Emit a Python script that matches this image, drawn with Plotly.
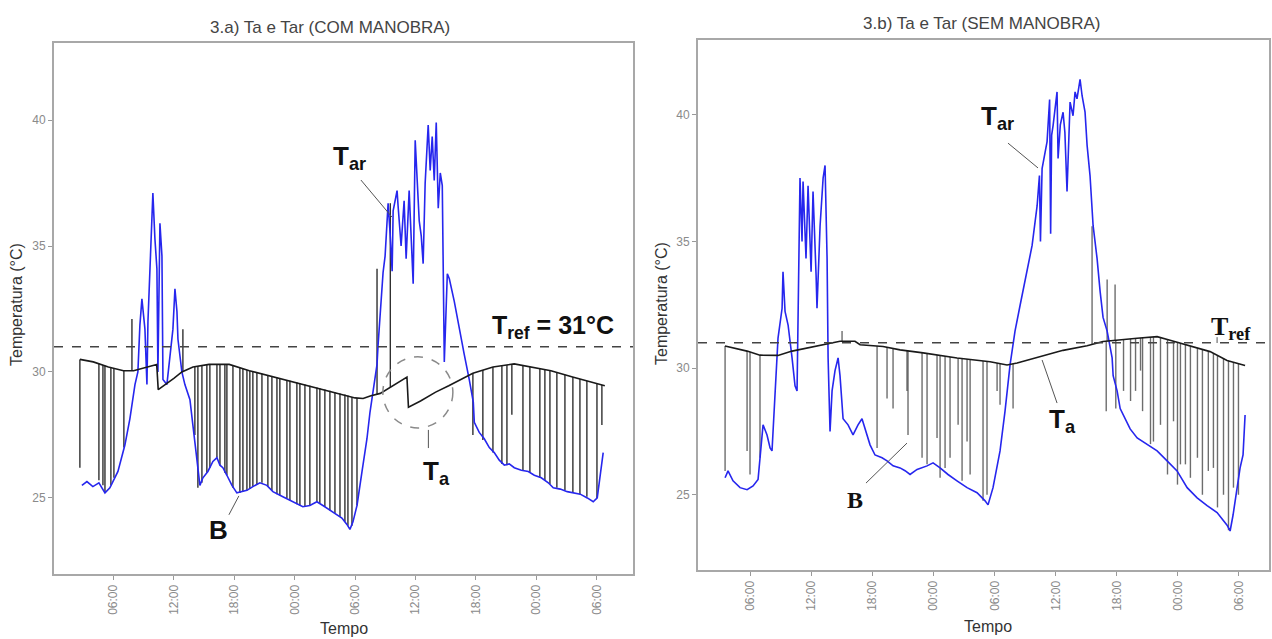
import numpy as np
import plotly.graph_objects as go

# ---------------- data ----------------
tick_hours = [6, 12, 18, 24, 30, 36, 42, 48, 54]
tick_labels = ["06:00", "12:00", "18:00", "00:00", "06:00", "12:00", "18:00", "00:00", "06:00"]
T_REF = 31

# Panel 3.a (COM MANOBRA)
ta_a_h = [2.67, 4.0, 5.5, 7.0, 8.0, 9.0, 10.3, 10.45, 11.0, 12.0, 12.8, 13.9, 15.5, 17.5, 19.5, 21.0, 23.0,
          25.0, 27.0, 29.0, 30.0, 30.8, 31.5, 32.5, 33.5, 34.7, 35.15, 35.3, 36.5, 38.0, 39.3, 41.7, 43.7,
          45.8, 47.5, 49.45, 51.6, 54.8]
ta_a_v = [30.5, 30.4, 30.2, 30.05, 30.05, 30.15, 30.3, 29.3, 29.45, 29.75, 30.0, 30.2, 30.3, 30.3, 30.05, 29.9, 29.7,
          29.5, 29.3, 29.1, 28.97, 28.95, 29.05, 29.15, 29.4, 29.7, 29.8, 28.6, 28.85, 29.2, 29.45, 29.95, 30.2,
          30.32, 30.2, 30.05, 29.8, 29.45]

tar_a_h = [2.87, 3.37, 3.96, 4.56, 5.16, 5.65, 5.95, 6.45, 7.14, 7.64,
           8.14, 8.43, 8.63, 8.83, 9.13, 9.33, 9.43, 9.62, 9.82, 9.92,
           10.12, 10.32, 10.42, 10.62, 10.82, 10.92, 11.31, 11.61, 11.91, 12.11,
           12.31, 12.41, 12.80, 13.10, 13.60, 13.89, 14.29, 14.59, 14.89, 15.38,
           15.88, 16.28, 16.58, 16.87, 17.27, 17.77, 18.26, 18.76, 19.26, 19.85,
           20.55, 21.24, 21.84, 22.83, 23.82, 24.81, 25.51, 26.21, 26.80, 27.80,
           28.69, 29.19, 29.49, 29.79, 30.19, 30.69, 31.18, 31.48, 31.78, 32.18,
           32.28, 32.48, 32.78, 32.98, 33.18, 33.28, 33.48, 33.68, 33.78, 34.17,
           34.27, 34.57, 34.87, 35.07, 35.37, 35.57, 35.77, 35.97, 36.17, 36.37,
           36.57, 36.76, 36.96, 37.26, 37.46, 37.66, 37.86, 38.06, 38.26, 38.46,
           38.66, 38.86, 39.16, 39.36, 39.85, 40.35, 40.84, 41.34, 41.74, 41.84,
           42.33, 42.83, 43.33, 43.82, 44.32, 44.82, 45.31, 45.81, 46.51, 47.20,
           47.80, 48.49, 49.19, 49.68, 50.38, 51.07, 51.67, 52.36, 53.06, 53.65,
           54.05, 54.35, 54.64]
tar_a_v = [25.5, 25.65, 25.45, 25.6, 25.2, 25.4, 25.65, 26.05, 27.1, 28.15,
           29.5, 30.0, 31.85, 32.9, 31.7, 29.5, 32.0, 34.0, 35.6, 37.1,
           35.3, 34.1, 30.0, 35.9, 34.6, 29.7, 29.5, 30.5, 31.7, 33.3,
           32.4, 31.3, 30.0, 29.5, 28.9, 27.9, 26.6, 25.5, 25.8, 26.05,
           26.45, 26.6, 26.3, 26.2, 25.9, 25.5, 25.2, 25.25, 25.3, 25.45,
           25.6, 25.5, 25.25, 25.05, 24.85, 24.65, 24.7, 24.85, 24.7, 24.45,
           24.2, 23.95, 23.75, 24.05, 24.7, 26.05, 27.35, 28.4, 29.3, 30.3,
           31.05, 32.4, 33.95, 34.6, 35.9, 36.7, 35.5, 34.0, 36.4, 37.2,
           36.6, 35.0, 36.8, 34.5, 37.2, 35.4, 33.5, 39.2, 37.8, 36.0,
           35.4, 34.3, 37.5, 39.8, 38.0, 39.35, 37.6, 39.9, 36.5, 37.9,
           37.4, 30.4, 33.9, 33.7, 32.8, 31.7, 30.7, 29.7, 28.8, 28.0,
           27.6, 27.35, 27.0, 26.8, 26.5, 26.3, 26.35, 26.2, 26.1, 26.05,
           25.9, 25.8, 25.6, 25.4, 25.35, 25.25, 25.2, 25.15, 25.0, 24.85,
           25.0, 25.9, 26.8]

bar_a_h = [2.67, 4.56, 4.96, 5.16, 5.75, 6.05, 7.04, 7.84, 12.9,
           14.09, 14.39, 14.79, 15.28, 15.58, 16.28, 16.58, 17.07, 17.27, 17.87,
           18.56, 18.86, 19.26, 19.55, 19.85, 20.25, 20.75, 21.34, 21.74, 22.24,
           22.53, 23.23, 23.53, 24.22, 24.52, 25.02, 25.51, 26.21, 26.50, 27.00,
           27.50, 28.0, 28.5, 28.99, 29.29, 29.69, 30.19,
           32.18, 33.5,
           41.70, 42.69, 43.69, 44.58, 45.08, 45.57, 46.67, 47.36, 48.35, 48.85,
           49.35, 50.04, 50.84, 51.63, 52.33, 53.02, 54.02, 54.51]
bar_a_end = [26.2, 25.7, 25.5, 25.2, 25.5, 25.8, 27.0, 32.1, 31.7,
             27.5, 25.4, 25.6, 26.0, 26.2, 26.6, 26.3, 26.0, 25.9, 25.4,
             25.2, 25.25, 25.3, 25.35, 25.45, 25.55, 25.6, 25.45, 25.3, 25.15,
             25.1, 25.0, 24.9, 24.75, 24.7, 24.65, 24.7, 24.85, 24.8, 24.65,
             24.5, 24.4, 24.25, 24.05, 23.9, 23.9, 24.7,
             34.1, 36.7,
             27.5, 27.3, 26.8, 26.35, 26.3, 28.3, 26.1, 26.0, 25.8, 25.7,
             25.55, 25.4, 25.3, 25.2, 25.15, 25.05, 25.0, 27.9]

# Panel 3.b (SEM MANOBRA)
ta_b_h = [3.51, 5.68, 6.95, 8.72, 10.10, 11.57, 12.85, 14.12, 14.81, 16.28, 16.78, 19.04, 20.71, 22.97, 26.31,
          29.55, 31.22, 32.21, 34.46, 36.72, 39.08, 40.65, 43.99, 45.96, 47.23, 48.90, 51.16, 52.83, 54.60]
ta_b_v = [30.87, 30.67, 30.51, 30.5, 30.67, 30.79, 30.9, 30.98, 31.06, 31.06, 30.92, 30.85, 30.72, 30.6, 30.4,
          30.25, 30.12, 30.2, 30.45, 30.7, 30.88, 31.05, 31.18, 31.24, 31.1, 30.9, 30.65, 30.3, 30.1]

tar_b_h = [3.52, 3.81, 4.30, 4.99, 5.68, 6.27, 6.76, 6.95, 7.25, 7.64,
           7.94, 8.13, 8.43, 8.72, 9.12, 9.21, 9.41, 9.71, 10.10, 10.39,
           10.59, 10.69, 10.88, 11.08, 11.18, 11.47, 11.67, 11.97, 12.16, 12.46,
           12.55, 12.85, 13.15, 13.34, 13.54, 13.64, 13.83, 14.03, 14.32, 14.62,
           14.81, 15.11, 15.60, 16.09, 16.58, 16.97, 17.27, 17.76, 18.25, 18.94,
           19.43, 20.02, 20.71, 21.20, 21.69, 22.38, 23.36, 23.95, 24.64, 25.42,
           26.30, 27.29, 28.27, 29.06, 29.35, 29.84, 30.53, 31.02, 31.51, 32.00,
           32.50, 33.19, 33.68, 34.17, 34.40, 34.50, 34.66, 35.15, 35.40, 35.50,
           35.60, 35.74, 36.13, 36.23, 36.45, 36.72, 36.90, 37.11, 37.41, 37.70,
           37.90, 38.09, 38.39, 38.59, 38.88, 39.08, 39.37, 39.67, 40.06, 40.36,
           40.65, 41.05, 41.34, 41.54, 41.64, 42.03, 42.33, 42.82, 43.31, 44.00,
           44.98, 45.96, 46.94, 47.92, 48.91, 49.89, 50.87, 51.85, 52.83, 53.13,
           53.42, 53.81, 54.11, 54.40, 54.60]
tar_b_v = [25.67, 25.94, 25.55, 25.28, 25.2, 25.35, 25.6, 26.46, 27.76, 27.36,
           26.85, 26.73, 29.1, 31.18, 32.36, 33.8, 32.24, 31.7, 30.4, 29.3,
           29.1, 31.46, 37.5, 35.0, 37.36, 34.33, 37.2, 33.8, 36.97, 33.66,
           32.36, 35.6, 37.5, 38.0, 34.33, 30.4, 27.5, 29.1, 29.9, 30.4,
           29.7, 28.0, 27.76, 27.36, 27.76, 28.0, 27.6, 26.97, 26.57, 26.46,
           26.34, 26.14, 26.06, 25.95, 25.8, 26.0, 26.14, 26.26, 26.06, 25.8,
           25.55, 25.28, 25.08, 24.76, 24.6, 25.28, 26.73, 28.3, 30.12, 31.46,
           32.48, 33.8, 34.84, 36.4, 37.6, 35.0, 37.87, 38.94, 40.6, 35.3,
           39.2, 39.57, 40.9, 38.27, 39.6, 40.1, 39.3, 36.97, 40.5, 39.96,
           40.9, 40.63, 41.4, 40.75, 40.1, 38.8, 37.6, 35.63, 34.33, 33.03,
           32.0, 31.46, 30.8, 30.4, 29.7, 29.1, 28.4, 28.0, 27.6, 27.24,
           26.97, 26.73, 26.34, 25.94, 25.28, 24.88, 24.57, 24.3, 23.8, 23.57,
           24.2, 25.15, 26.06, 26.57, 28.15]

bar_b_h = [3.52, 5.68, 5.97, 6.95, 15.01,
           18.45, 19.43, 20.02, 21.39, 21.49, 22.87, 23.36, 24.34, 24.64, 25.13,
           25.62, 26.41, 26.80, 27.29, 27.59, 28.86, 29.25, 30.24, 30.53, 31.81,
           39.57, 40.96, 41.05, 41.83, 41.90,
           42.66, 43.35, 43.84, 44.33, 44.53, 45.31, 45.60, 46.29, 46.98, 47.57,
           47.96, 48.25, 48.74, 49.23, 49.92, 50.41, 50.99, 51.49, 51.89, 52.48,
           52.97, 53.46, 53.95]
bar_b_end = [25.94, 26.73, 25.8, 26.46, 31.46,
             26.85, 28.8, 28.4, 29.1, 27.36, 26.46, 26.2, 27.24, 25.67, 26.06,
             26.46, 27.76, 25.55, 27.1, 25.8, 24.76, 25.0, 29.1, 28.55, 28.4,
             35.6, 28.3, 33.5, 33.3, 28.4,
             29.1, 28.7, 29.1, 29.9, 28.3, 27.0, 27.1, 27.76, 25.8, 27.9,
             25.4, 26.2, 26.2, 25.67, 26.46, 25.0, 25.94, 26.06, 24.5, 25.0,
             23.6, 25.28, 25.0]

# ---------------- figure ----------------
W, H = 1272, 639
SANS = "Liberation Sans, Arial, sans-serif"
SERIF = "Liberation Serif, Times New Roman, serif"
BLUE = "#2626ee"

fig = go.Figure()


def bar_segments(hours, ends, ta_h, ta_v):
    tops = np.interp(hours, ta_h, ta_v)
    xs, ys = [], []
    for h, t, e in zip(hours, tops, ends):
        xs += [h, h, None]
        ys += [t, e, None]
    return xs, ys


for (bh, be, th, tv, rh, rv, xa, ya, bcol, bw) in [
    (bar_a_h, bar_a_end, ta_a_h, ta_a_v, tar_a_h, tar_a_v, "x", "y", "rgba(25,25,25,0.9)", 1.4),
    (bar_b_h, bar_b_end, ta_b_h, ta_b_v, tar_b_h, tar_b_v, "x2", "y2", "rgba(60,60,60,0.75)", 1.4),
]:
    bx, by = bar_segments(bh, be, th, tv)
    fig.add_trace(go.Scatter(x=bx, y=by, mode="lines", line=dict(color=bcol, width=bw),
                             xaxis=xa, yaxis=ya, hoverinfo="skip"))
    fig.add_trace(go.Scatter(x=rh, y=rv, mode="lines", line=dict(color=BLUE, width=1.6),
                             xaxis=xa, yaxis=ya, name="Tar"))
    fig.add_trace(go.Scatter(x=th, y=tv, mode="lines", line=dict(color="#1a1a1a", width=1.6),
                             xaxis=xa, yaxis=ya, name="Ta"))

axis_common = dict(showgrid=False, zeroline=False, showline=True, linecolor="#a8a8a8", linewidth=2,
                   mirror=True, ticks="outside", ticklen=4, tickcolor="#999", tickwidth=1,
                   tickfont=dict(family=SANS, size=12, color="#8a8a8a"))

fig.update_layout(
    width=W, height=H, margin=dict(l=0, r=0, t=0, b=0),
    paper_bgcolor="white", plot_bgcolor="white", showlegend=False,
    font=dict(family=SANS),
    xaxis=dict(domain=[54 / W, 633 / W], range=[0.1, 57.6], anchor="y",
               tickvals=tick_hours, ticktext=tick_labels, tickangle=-90, **axis_common),
    yaxis=dict(domain=[(H - 574) / H, (H - 43) / H], range=[21.98, 43.06], anchor="x",
               tickvals=[25, 30, 35, 40], **axis_common),
    xaxis2=dict(domain=[698 / W, 1269 / W], range=[0.86, 56.95], anchor="y2",
                tickvals=tick_hours, ticktext=tick_labels, tickangle=-90, **axis_common),
    yaxis2=dict(domain=[(H - 570) / H, (H - 39.5) / H], range=[22.03, 42.97], anchor="x2",
                tickvals=[25, 30, 35, 40], **axis_common),
)

shapes = []
for xr, yr in [("x", "y"), ("x2", "y2")]:
    shapes.append(dict(type="line", xref=xr + " domain", yref=yr, x0=0, x1=1, y0=T_REF, y1=T_REF,
                       line=dict(color="#444", width=1.4, dash="dash")))
# leader lines & circle
lead = dict(color="#555", width=1)
shapes += [
    dict(type="line", xref="x", yref="y", x0=30.58, y0=37.62, x1=33.66, y1=36.15, line=lead),
    dict(type="line", xref="x", yref="y", x0=37.28, y0=27.70, x1=37.28, y1=26.98, line=lead),
    dict(type="line", xref="x", yref="y", x0=17.47, y0=24.33, x1=18.46, y1=25.08, line=lead),
    dict(type="circle", xref="x", yref="y", x0=32.76, x1=39.71, y0=27.78, y1=30.60,
         line=dict(color="#8a8a8a", width=1.5, dash="dash")),
    dict(type="line", xref="x2", yref="y2", x0=31.31, y0=38.88, x1=34.26, y1=37.90, line=lead),
    dict(type="line", xref="x2", yref="y2", x0=34.66, y0=30.32, x1=36.13, y1=28.62, line=lead),
    dict(type="line", xref="x2", yref="y2", x0=17.36, y0=25.46, x1=21.39, y1=27.04, line=lead),
    dict(type="line", xref="x2", yref="y2", x0=51.85, y0=31.22, x1=51.85, y1=30.99, line=lead),
]
fig.update_layout(shapes=shapes)

ann = []


def lab(text, x, y, xr, yr, size, family=SANS, xanchor="left", yanchor="middle"):
    ann.append(dict(text=text, x=x, y=y, xref=xr, yref=yr, showarrow=False, xanchor=xanchor,
                    yanchor=yanchor, font=dict(family=family, size=size, color="#111")))


# titles and axis titles
for t, x, y in [("3.a) Ta e Tar (COM MANOBRA)", 330, 28), ("3.b) Ta e Tar (SEM MANOBRA)", 981, 24)]:
    ann.append(dict(text=t, x=x / W, y=(H - y) / H, xref="paper", yref="paper", showarrow=False,
                    xanchor="center", yanchor="middle", font=dict(family=SANS, size=17, color="#444")))
for x, y in [(344, 628), (988, 626)]:
    ann.append(dict(text="Tempo", x=x / W, y=(H - y) / H, xref="paper", yref="paper", showarrow=False,
                    xanchor="center", yanchor="middle", font=dict(family=SANS, size=16, color="#333")))
for x, y in [(16, 305), (661, 304)]:
    ann.append(dict(text="Temperatura (°C)", x=x / W, y=(H - y) / H, xref="paper", yref="paper",
                    showarrow=False, textangle=-90, xanchor="center", yanchor="middle",
                    font=dict(family=SANS, size=16, color="#333")))

# panel a labels
lab("<b>T<sub>ar</sub></b>", 27.6, 38.5, "x", "y", 26)
lab("<b>T<sub>ref</sub> = 31°C</b>", 43.39, 31.8, "x", "y", 25)
lab("<b>T<sub>a</sub></b>", 36.54, 26.0, "x", "y", 26)
lab("<b>B</b>", 16.48, 23.73, "x", "y", 26, xanchor="center")
# panel b labels
lab("<b>T<sub>ar</sub></b>", 28.47, 39.9, "x2", "y2", 26)
lab("<b>T<sub>a</sub></b>", 35.15, 27.95, "x2", "y2", 26)
lab("<b>T<sub>ref</sub></b>", 51.07, 31.6, "x2", "y2", 26, family=SERIF)
lab("<b>B</b>", 16.27, 24.79, "x2", "y2", 24, family=SERIF, xanchor="center")

fig.update_layout(annotations=ann)
fig.write_html("out.html")
